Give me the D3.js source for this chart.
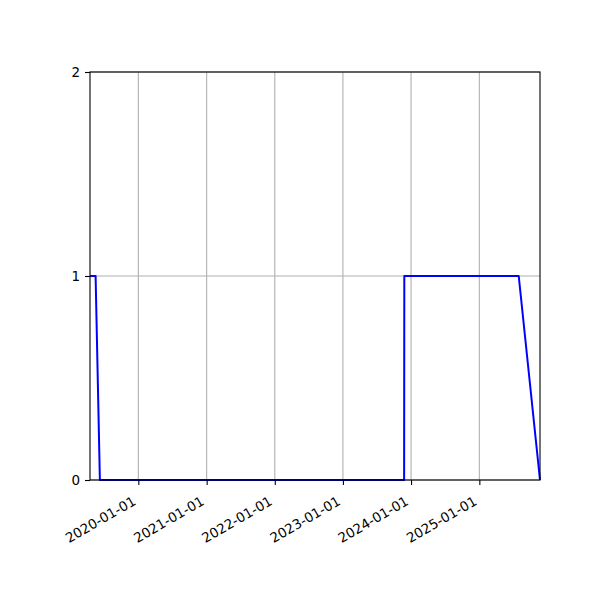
<!DOCTYPE html>
<html><head><meta charset="utf-8">
<script src="https://cdn.jsdelivr.net/npm/d3@7"></script>
<style>body{margin:0;background:#fff}svg{display:block}text{font-family:"DejaVu Sans",sans-serif}</style>
</head><body>
<script>
const dates = ["2019-04-17","2019-05-17","2019-06-09","2023-11-25","2023-11-26","2025-07-31","2025-11-22"];
const values = [1,1,0,0,1,1,0];
const xTicks = ["2020-01-01","2021-01-01","2022-01-01","2023-01-01","2024-01-01","2025-01-01"];
const yTicks = [0,1,2];

const W=600,H=600, L=90,R=540,T=72,B=480;
const parse=d3.utcParse("%Y-%m-%d");
const data=dates.map((d,i)=>({d:parse(d),v:values[i]}));
const svg=d3.select("body").append("svg").attr("width",W).attr("height",H);
const x=d3.scaleUtc().domain(d3.extent(data,d=>d.d)).range([L,R]);
const y=d3.scaleLinear().domain([0,2]).range([B,T]);
const xt=xTicks.map(parse);

// grid
svg.append("g").selectAll("line").data(xt).join("line")
  .attr("x1",d=>x(d)).attr("x2",d=>x(d)).attr("y1",T).attr("y2",B)
  .attr("stroke","#b0b0b0").attr("stroke-width",1.1);
svg.append("g").selectAll("line").data(yTicks).join("line")
  .attr("x1",L).attr("x2",R).attr("y1",d=>y(d)).attr("y2",d=>y(d))
  .attr("stroke","#b0b0b0").attr("stroke-width",1.1);

// line
svg.append("path").datum(data).attr("fill","none").attr("stroke","#0000ff").attr("stroke-width",2)
  .attr("stroke-linejoin","round")
  .attr("d",d3.line().x(d=>x(d.d)).y(d=>y(d.v)));

// axes
const xa=svg.append("g").attr("transform",`translate(0,${B})`)
  .call(d3.axisBottom(x).tickValues(xt).tickSize(5).tickPadding(0).tickFormat(d3.utcFormat("%Y-%m-%d")));
xa.select(".domain").remove();
xa.selectAll("line").attr("stroke","#000").attr("stroke-width",1.1);
xa.selectAll("text").attr("font-size",13.5).attr("fill","#000")
  .attr("text-anchor","end").attr("dy",null).attr("y",null)
  .attr("transform","translate(-2,24) rotate(-30)");

const ya=svg.append("g").attr("transform",`translate(${L},0)`)
  .call(d3.axisLeft(y).tickValues(yTicks).tickSize(5).tickPadding(5).tickFormat(d3.format("d")));
ya.select(".domain").remove();
ya.selectAll("line").attr("stroke","#000").attr("stroke-width",1.1);
ya.selectAll("text").attr("font-size",13.5).attr("fill","#000");

svg.append("rect").attr("x",L).attr("y",T).attr("width",R-L).attr("height",B-T)
  .attr("fill","none").attr("stroke","#000").attr("stroke-width",1.1);
</script>
</body></html>
